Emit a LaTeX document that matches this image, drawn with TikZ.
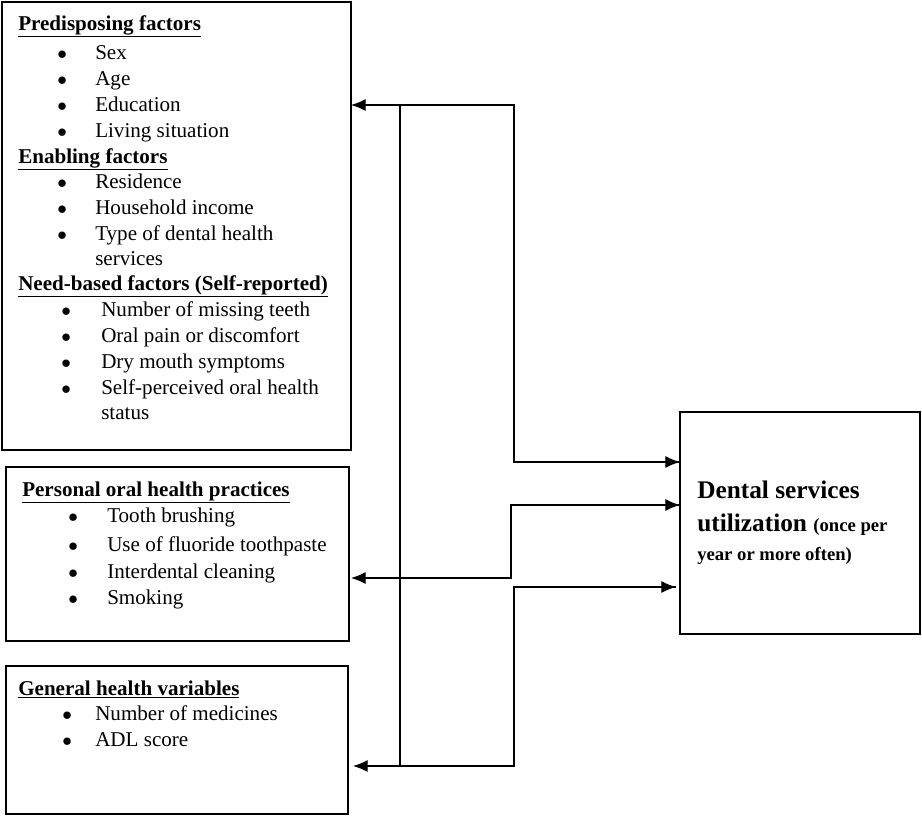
\documentclass[tikz,border=0pt]{standalone}
\usepackage{fontspec}
\setmainfont{Liberation Serif}
\usetikzlibrary{arrows.meta}
\begin{document}
\begin{tikzpicture}[x=0.75pt,y=-0.75pt,
  box/.style={draw,line width=1.1pt},
  t/.style={anchor=base west,inner sep=0pt,font=\fontsize{15.8}{18}\selectfont},
  h/.style={t,font=\fontsize{15.8}{18}\selectfont\bfseries},
  conn/.style={line width=0.9pt},
  arr/.style={conn,-{Latex[length=11pt,width=9pt]}}]
\useasboundingbox (0,0) rectangle (922,818);
\draw[box] (2,2) rectangle (351,450);
\draw[box] (6,467) rectangle (349,641);
\draw[box] (6,666) rectangle (348,814);
\draw[box] (680,412) rectangle (920,634);
\coordinate (b1a) at (351,105);
\coordinate (b2a) at (351,578);
\coordinate (b3a) at (353,766);
\coordinate (r1) at (680,462);
\coordinate (r2) at (680,505);
\coordinate (r3) at (676,587);
\newcommand\bul{$\bullet$}
\node[h] (hp) at (18,30) {\underline{Predisposing factors}};
\foreach \y/\s in {59/Sex,85/Age,111/Education,137/Living situation}
  {\node[t] at (57,\y) {\bul}; \node[t] at (95,\y) {\s};}
\node[h] (he) at (18,163) {\underline{Enabling factors}};
\foreach \y/\s in {188/Residence,214/Household income,240/Type of dental health}
  {\node[t] at (57,\y) {\bul}; \node[t] at (95,\y) {\s};}
\node[t] at (95,265) {services};
\node[h] (hn) at (18,290) {\underline{Need-based factors (Self-reported)}};
\foreach \y/\s in {316/Number of missing teeth,342/Oral pain or discomfort,368/Dry mouth symptoms,394/Self-perceived oral health}
  {\node[t] at (61,\y) {\bul}; \node[t] at (101,\y) {\s};}
\node[t] at (101,419) {status};
\node[h] (ho) at (22,496) {\underline{Personal oral health practices}};
\foreach \y/\s in {522/Tooth brushing,551/Use of fluoride toothpaste,578/Interdental cleaning,604/Smoking}
  {\node[t] at (68,\y) {\bul}; \node[t] at (107,\y) {\s};}
\node[h] (hg) at (18,695) {\underline{General health variables}};
\foreach \y/\s in {720/Number of medicines,746/ADL score}
  {\node[t] at (62,\y) {\bul}; \node[t] at (95,\y) {\s};}
\node[t,font=\fontsize{19}{22}\selectfont\bfseries] (d1) at (697,498) {Dental services};
\node[t,font=\fontsize{19}{22}\selectfont\bfseries] (d2) at (697,531) {utilization \fontsize{14}{16}\selectfont(once per};
\node[t,font=\fontsize{14}{16}\selectfont\bfseries] (d3) at (697,560) {year or more often)};
\draw[arr] (r1) -- (514,462) -- (514,105) -- (b1a);
\draw[arr] (514,462) -- (r1);
\draw[conn] (400,105) -- (400,766);
\draw[arr] (r2) -- (511,505) -- (511,578) -- (b2a);
\draw[arr] (511,505) -- (r2);
\draw[arr] (r3) -- (514,587) -- (514,766) -- (b3a);
\draw[arr] (514,587) -- (r3);
\end{tikzpicture}
\end{document}
